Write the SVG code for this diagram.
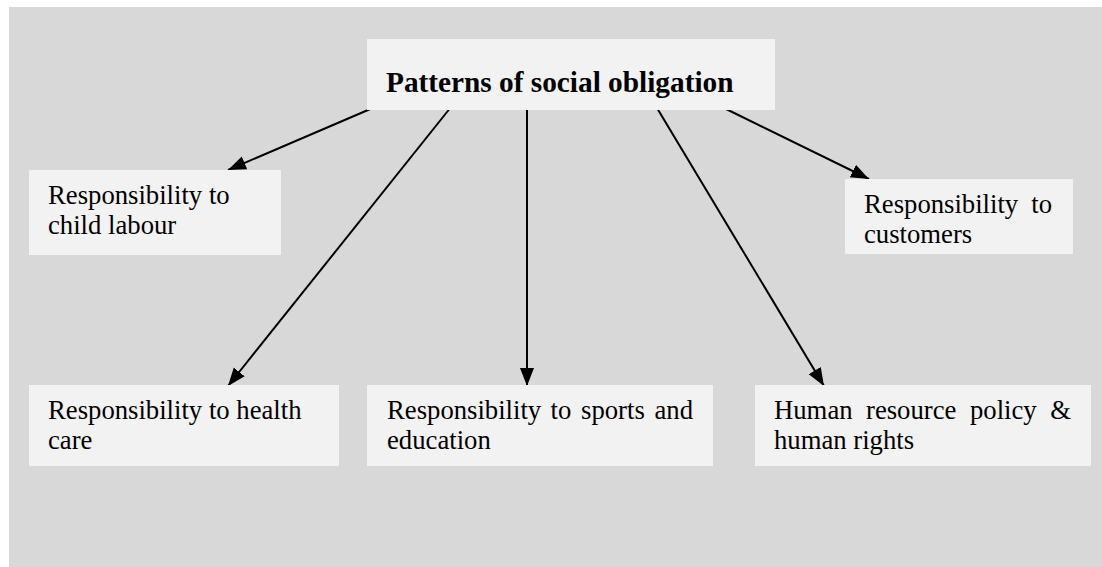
<svg xmlns="http://www.w3.org/2000/svg" width="1102" height="567" viewBox="0 0 1102 567">
  <style>
    .box { fill: #f2f2f2; stroke: none; }
    .t { font-family: "Liberation Serif", "Times New Roman", serif; font-size: 26.7px; fill: #000; }
    .title { font-family: "Liberation Serif", "Times New Roman", serif; font-size: 29.3px; font-weight: bold; fill: #000; }
    .conn { stroke: #000; stroke-width: 2; fill: none; marker-end: url(#arr); }
  </style>
  <defs>
    <marker id="arr" markerUnits="userSpaceOnUse" markerWidth="20" markerHeight="16" refX="18" refY="7" orient="auto">
      <path d="M0,0 L18,7 L0,14 Z" fill="#000"/>
    </marker>
  </defs>
  <rect x="0" y="0" width="1102" height="567" fill="#ffffff"/>
  <rect x="9" y="7" width="1093" height="560" fill="#d8d8d8"/>

  <g id="connectors">
    <line class="conn" x1="375" y1="107" x2="228" y2="170"/>
    <line class="conn" x1="451" y1="107" x2="228" y2="386"/>
    <line class="conn" x1="527" y1="110" x2="527" y2="386"/>
    <line class="conn" x1="657" y1="108" x2="824" y2="386"/>
    <line class="conn" x1="722" y1="107" x2="869" y2="179"/>
  </g>

  <g id="node-title">
    <rect class="box" x="367" y="39" width="408" height="71"/>
    <text class="title" x="386" y="92">Patterns of social obligation</text>
  </g>

  <g id="node-child-labour">
    <rect class="box" x="29" y="170" width="252" height="85"/>
    <text class="t" x="48" y="204">Responsibility to</text>
    <text class="t" x="48" y="234">child labour</text>
  </g>

  <g id="node-customers">
    <rect class="box" x="845" y="179" width="228" height="75"/>
    <text class="t" x="864" y="213">Responsibility</text>
    <text class="t" x="1052" y="213" text-anchor="end">to</text>
    <text class="t" x="864" y="243">customers</text>
  </g>

  <g id="node-health-care">
    <rect class="box" x="29" y="385" width="310" height="81"/>
    <text class="t" x="48" y="419">Responsibility to health</text>
    <text class="t" x="48" y="449">care</text>
  </g>

  <g id="node-sports-education">
    <rect class="box" x="367" y="385" width="346" height="81"/>
    <text class="t" x="387" y="419">Responsibility</text>
    <text class="t" x="550.5" y="419">to</text>
    <text class="t" x="581" y="419">sports</text>
    <text class="t" x="693" y="419" text-anchor="end">and</text>
    <text class="t" x="387" y="449">education</text>
  </g>

  <g id="node-human-resource">
    <rect class="box" x="755" y="385" width="336" height="81"/>
    <text class="t" x="774" y="419">Human</text>
    <text class="t" x="866" y="419">resource</text>
    <text class="t" x="970" y="419">policy</text>
    <text class="t" x="1071" y="419" text-anchor="end">&amp;</text>
    <text class="t" x="774" y="449">human rights</text>
  </g>
</svg>
